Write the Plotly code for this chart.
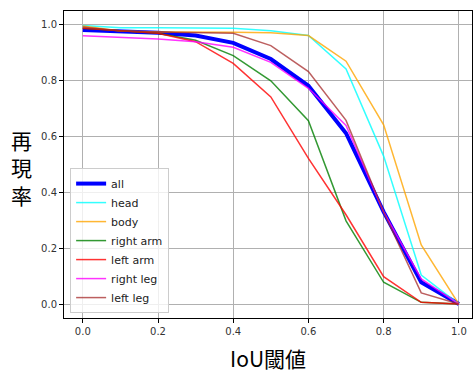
import plotly.graph_objects as go

iou = [0.0, 0.1, 0.2, 0.3, 0.4, 0.5, 0.6, 0.7, 0.8, 0.9, 1.0]
all_vals = [0.982, 0.976, 0.972, 0.962, 0.936, 0.878, 0.782, 0.612, 0.330, 0.078, 0.0]
head = [0.998, 0.990, 0.990, 0.989, 0.988, 0.979, 0.962, 0.842, 0.530, 0.104, 0.0]
body = [0.996, 0.978, 0.975, 0.975, 0.974, 0.972, 0.962, 0.870, 0.642, 0.212, 0.0]
right_arm = [0.988, 0.978, 0.970, 0.945, 0.890, 0.800, 0.657, 0.298, 0.078, 0.006, 0.0]
left_arm = [0.988, 0.978, 0.970, 0.940, 0.862, 0.742, 0.522, 0.320, 0.098, 0.006, 0.0]
right_leg = [0.961, 0.955, 0.950, 0.940, 0.920, 0.866, 0.773, 0.640, 0.330, 0.090, 0.0]
left_leg = [0.993, 0.978, 0.975, 0.972, 0.970, 0.926, 0.833, 0.658, 0.330, 0.040, 0.0]

series = [
    ("all", all_vals, "rgb(0,0,255)", 4),
    ("head", head, "rgba(0,255,255,0.8)", 1.5),
    ("body", body, "rgba(255,165,0,0.8)", 1.5),
    ("right arm", right_arm, "rgba(0,128,0,0.8)", 1.5),
    ("left arm", left_arm, "rgba(255,0,0,0.8)", 1.5),
    ("right leg", right_leg, "rgba(255,0,255,0.8)", 1.5),
    ("left leg", left_leg, "rgba(165,42,42,0.75)", 1.5),
]

fig = go.Figure()
for name, vals, color, w in series:
    fig.add_trace(go.Scatter(x=iou, y=vals, mode="lines", name=name,
                             line=dict(color=color, width=w)))

axis_common = dict(
    showgrid=True, gridcolor="#b0b0b0", gridwidth=0.8,
    showline=True, linecolor="black", linewidth=1, mirror=True,
    ticks="outside", ticklen=4, tickcolor="black",
    tickfont=dict(family="DejaVu Sans", size=10, color="#333333"),
    zeroline=False,
)

fig.update_layout(
    width=473, height=373,
    margin=dict(l=64, r=1, t=11, b=55),
    paper_bgcolor="white", plot_bgcolor="white",
    xaxis=dict(range=[-0.05, 1.035], tickvals=[0, 0.2, 0.4, 0.6, 0.8, 1.0],
               ticktext=["0.0", "0.2", "0.4", "0.6", "0.8", "1.0"], **axis_common),
    yaxis=dict(range=[-0.05, 1.05], tickvals=[0, 0.2, 0.4, 0.6, 0.8, 1.0],
               ticktext=["0.0", "0.2", "0.4", "0.6", "0.8", "1.0"], **axis_common),
    legend=dict(x=0.015, y=0.016, xanchor="left", yanchor="bottom",
                bgcolor="rgba(255,255,255,0.8)", bordercolor="#cccccc", borderwidth=1,
                font=dict(family="DejaVu Sans", size=11, color="#222222"),
                tracegroupgap=0),
    showlegend=True,
)

fig.add_annotation(text="再<br>現<br>率", xref="paper", yref="paper",
                   x=-0.105, y=0.49, xanchor="center", yanchor="middle",
                   showarrow=False, align="center",
                   font=dict(family="Noto Sans CJK JP", size=21, color="black"))
fig.add_annotation(text="IoU閾値", xref="paper", yref="paper",
                   x=0.5, y=-0.13, xanchor="center", yanchor="middle",
                   showarrow=False,
                   font=dict(family="Noto Sans CJK JP", size=21, color="black"))

fig.write_html("out.html", config={"displayModeBar": False},
               post_script="document.body.style.margin='0';document.body.style.padding='0';document.documentElement.style.overflow='hidden';")
